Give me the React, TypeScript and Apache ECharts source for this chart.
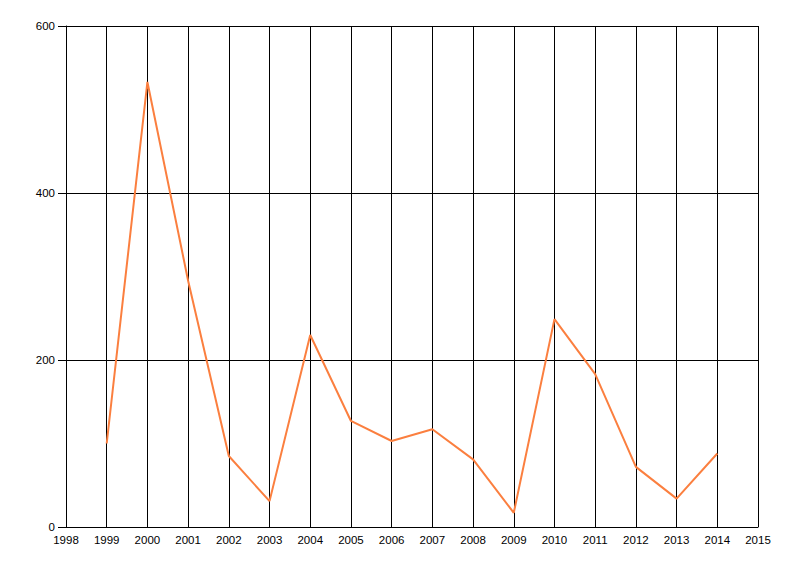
import React, { useEffect, useRef } from "react";
import * as echarts from "echarts";

const years = [1999, 2000, 2001, 2002, 2003, 2004, 2005, 2006, 2007, 2008, 2009, 2010, 2011, 2012, 2013, 2014];
const values = [100, 533, 295, 85, 31, 230, 127, 103, 117, 81, 17, 249, 183, 72, 34, 88];

export default function App() {
  const ref = useRef<HTMLDivElement>(null);
  useEffect(() => {
    document.body.style.margin = "0";
    const chart = echarts.init(ref.current!, null, { renderer: "svg" });
    chart.setOption({
      animation: false,
      backgroundColor: "#ffffff",
      grid: { left: 66, right: 42, top: 26, bottom: 49, containLabel: false },
      xAxis: {
        type: "value",
        min: 1998,
        max: 2015,
        interval: 1,
        axisLine: { show: true, lineStyle: { color: "#000", width: 1 } },
        axisTick: { show: false },
        splitLine: { show: true, lineStyle: { color: "#000", width: 1 } },
        axisLabel: {
          color: "#000",
          fontSize: 11.5,
          fontFamily: "Liberation Sans, Arial, sans-serif",
          margin: 7,
          formatter: (v: number) => String(v),
          showMinLabel: true,
          showMaxLabel: true,
        },
      },
      yAxis: {
        type: "value",
        min: 0,
        max: 600,
        interval: 200,
        axisLine: { show: true, lineStyle: { color: "#000", width: 1 } },
        axisTick: { show: true, length: 8, lineStyle: { color: "#000" } },
        splitLine: { show: true, lineStyle: { color: "#000", width: 1 } },
        axisLabel: {
          color: "#000",
          fontSize: 11.5,
          fontFamily: "Liberation Sans, Arial, sans-serif",
          margin: 11,
        },
      },
      series: [
        {
          type: "line",
          data: years.map((y, i) => [y, values[i]]),
          showSymbol: false,
          lineStyle: { color: "#FB7F3F", width: 2 },
          itemStyle: { color: "#FB7F3F" },
        },
      ],
    });
    return () => chart.dispose();
  }, []);
  return <div ref={ref} style={{ width: 800, height: 576 }} />;
}
